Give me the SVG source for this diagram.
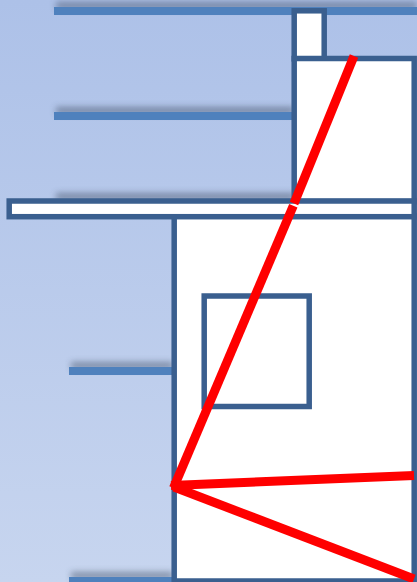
<svg xmlns="http://www.w3.org/2000/svg" width="417" height="582" viewBox="0 0 417 582">
<defs>
<linearGradient id="bg" x1="0" y1="0" x2="0" y2="1"><stop offset="0" stop-color="#adc1e8"/><stop offset="1" stop-color="#c7d5ef"/></linearGradient>
<filter id="sh" x="-5%" y="-300%" width="110%" height="700%"><feGaussianBlur stdDeviation="3"/></filter>
</defs>
<style>
.beam{fill:#4f81bd}
.shadow{fill:#3b4a5e;opacity:.5;filter:url(#sh)}
.box{fill:#fff;stroke:#3a5f8f;stroke-width:5.500}
.red{stroke:#f00;stroke-width:9;fill:none}
</style>
<rect width="417" height="582" fill="url(#bg)"/>
<g id="beam-shadows">
<rect class="shadow" x="56" y="2" width="361" height="7"/>
<rect class="shadow" x="56" y="107" width="238" height="7"/>
<rect class="shadow" x="56" y="193" width="239" height="7"/>
<rect class="shadow" x="71" y="362" width="102" height="7"/>
<rect class="shadow" x="71" y="572" width="102" height="7"/>
</g>
<g id="beams">
<rect class="beam" x="54" y="7" width="363" height="8"/>
<rect class="beam" x="54" y="112" width="240" height="8"/>
<rect class="beam" x="69" y="367" width="104" height="8"/>
<rect class="beam" x="69" y="577" width="104" height="5"/>
</g>
<g id="chimney-cap"><rect class="box" x="294.200" y="10.800" width="30" height="48"/></g>
<g id="upper-box"><rect class="box" x="294.200" y="58.500" width="120" height="143"/></g>
<g id="lower-box"><rect class="box" x="174.200" y="216" width="240" height="365"/></g>
<g id="plate"><rect class="box" x="9.200" y="201" width="405" height="15.700"/></g>
<g id="window"><rect class="box" x="204.200" y="296" width="105" height="110.500"/></g>
<g id="connectors">
<line class="red" x1="354" y1="56" x2="294" y2="203.500"/>
<line class="red" x1="293.300" y1="205.700" x2="173.500" y2="488"/>
<line class="red" x1="171" y1="485.500" x2="414" y2="475.500"/>
<line class="red" x1="174" y1="487" x2="414" y2="579"/>
</g>
</svg>
